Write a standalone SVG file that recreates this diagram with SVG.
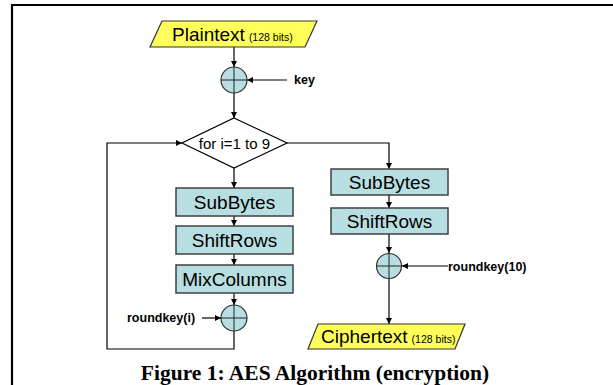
<svg xmlns="http://www.w3.org/2000/svg" width="613" height="385" viewBox="0 0 613 385">
<defs>
<marker id="ah" viewBox="0 0 10 10" refX="10" refY="5" markerWidth="6" markerHeight="6" markerUnits="userSpaceOnUse" orient="auto">
<path d="M0,0 L10,5 L0,10 z" fill="#000"/>
</marker>
<style>
.frame{fill:none;stroke:#000;stroke-width:2.2}
.io{fill:#FFFF5A;stroke:#333;stroke-width:1.2}
.box{fill:#B7DEE0;stroke:#404040;stroke-width:1.5}
.xor{fill:#B7DEE0;stroke:#333;stroke-width:1.2}
.dia{fill:#fff;stroke:#000;stroke-width:1.2}
.cross{stroke:#222;stroke-width:1}
.con{fill:none;stroke:#000;stroke-width:1.2}
.arr{marker-end:url(#ah)}
.t{font-family:"Liberation Sans",Arial,sans-serif;fill:#000}
.big{font-size:19px}
.small{font-size:10.5px}
.lbl{font-size:12.5px;font-weight:bold}
.cap{font-family:"Liberation Serif","Times New Roman",serif;font-weight:bold;font-size:21.5px;fill:#000}
</style>
</defs>
<rect width="613" height="385" fill="#fff"/>
<path class="frame" d="M12,385 L12,5 L613,5"/>
<g id="connectors">
<line class="con arr" x1="234" y1="47" x2="234" y2="67"/>
<line class="con arr" x1="287" y1="80" x2="247" y2="80"/>
<line class="con arr" x1="234" y1="93" x2="234" y2="118"/>
<line class="con arr" x1="234" y1="168" x2="234" y2="188"/>
<line class="con arr" x1="234" y1="216" x2="234" y2="226"/>
<line class="con arr" x1="234" y1="254" x2="234" y2="265"/>
<line class="con arr" x1="234" y1="293" x2="234" y2="305"/>
<line class="con arr" x1="202" y1="318" x2="221" y2="318"/>
<polyline class="con arr" points="234,331 234,349 107,349 107,143 182,143"/>
<polyline class="con arr" points="287,143 389,143 389,169"/>
<line class="con arr" x1="389" y1="195" x2="389" y2="208"/>
<line class="con arr" x1="389" y1="234" x2="389" y2="253"/>
<line class="con arr" x1="448" y1="266" x2="402" y2="266"/>
<line class="con arr" x1="389" y1="278" x2="389" y2="324"/>
</g>
<g id="plaintext">
<polygon class="io" points="162,21 317,21 305,47 150,47"/>
<text class="t" x="172" y="41"><tspan class="big">Plaintext</tspan><tspan class="small" dx="4">(128 bits)</tspan></text>
</g>
<g id="xor-key">
<circle class="xor" cx="234" cy="80" r="13"/>
<line class="cross" x1="221" y1="80" x2="247" y2="80"/>
<line class="cross" x1="234" y1="67" x2="234" y2="93"/>
</g>
<g id="key-label"><text class="t lbl" x="294" y="84">key</text></g>
<g id="loop">
<polygon class="dia" points="234,118 287,143 234,168 182,143"/>
<text class="t" x="234.5" y="148.5" font-size="15" text-anchor="middle">for i=1 to 9</text>
</g>
<g id="subbytes-loop">
<rect class="box" x="176" y="188" width="117" height="28"/>
<text class="t big" x="234.5" y="209" text-anchor="middle">SubBytes</text>
</g>
<g id="shiftrows-loop">
<rect class="box" x="176" y="226" width="117" height="28"/>
<text class="t big" x="234.5" y="247" text-anchor="middle">ShiftRows</text>
</g>
<g id="mixcolumns">
<rect class="box" x="176" y="265" width="117" height="28"/>
<text class="t big" x="234.5" y="286" text-anchor="middle">MixColumns</text>
</g>
<g id="xor-round">
<circle class="xor" cx="234" cy="318" r="13"/>
<line class="cross" x1="221" y1="318" x2="247" y2="318"/>
<line class="cross" x1="234" y1="305" x2="234" y2="331"/>
</g>
<g id="roundkey-i-label"><text class="t lbl" x="127" y="322">roundkey(i)</text></g>
<g id="subbytes-final">
<rect class="box" x="331" y="169" width="117" height="26"/>
<text class="t big" x="389.5" y="189" text-anchor="middle">SubBytes</text>
</g>
<g id="shiftrows-final">
<rect class="box" x="331" y="208" width="117" height="26"/>
<text class="t big" x="389.5" y="228" text-anchor="middle">ShiftRows</text>
</g>
<g id="xor-final">
<circle class="xor" cx="389" cy="266" r="12.5"/>
<line class="cross" x1="376.5" y1="266" x2="401.5" y2="266"/>
<line class="cross" x1="389" y1="253.5" x2="389" y2="278.5"/>
</g>
<g id="roundkey-10-label"><text class="t lbl" x="448" y="271">roundkey(10)</text></g>
<g id="ciphertext">
<polygon class="io" points="318,324 465,324 455,349 308,349"/>
<text class="t" x="321" y="343"><tspan class="big">Ciphertext</tspan><tspan class="small" dx="4">(128 bits)</tspan></text>
</g>
<g id="caption"><text class="cap" x="315" y="380" text-anchor="middle">Figure 1: AES Algorithm (encryption)</text></g>
</svg>
